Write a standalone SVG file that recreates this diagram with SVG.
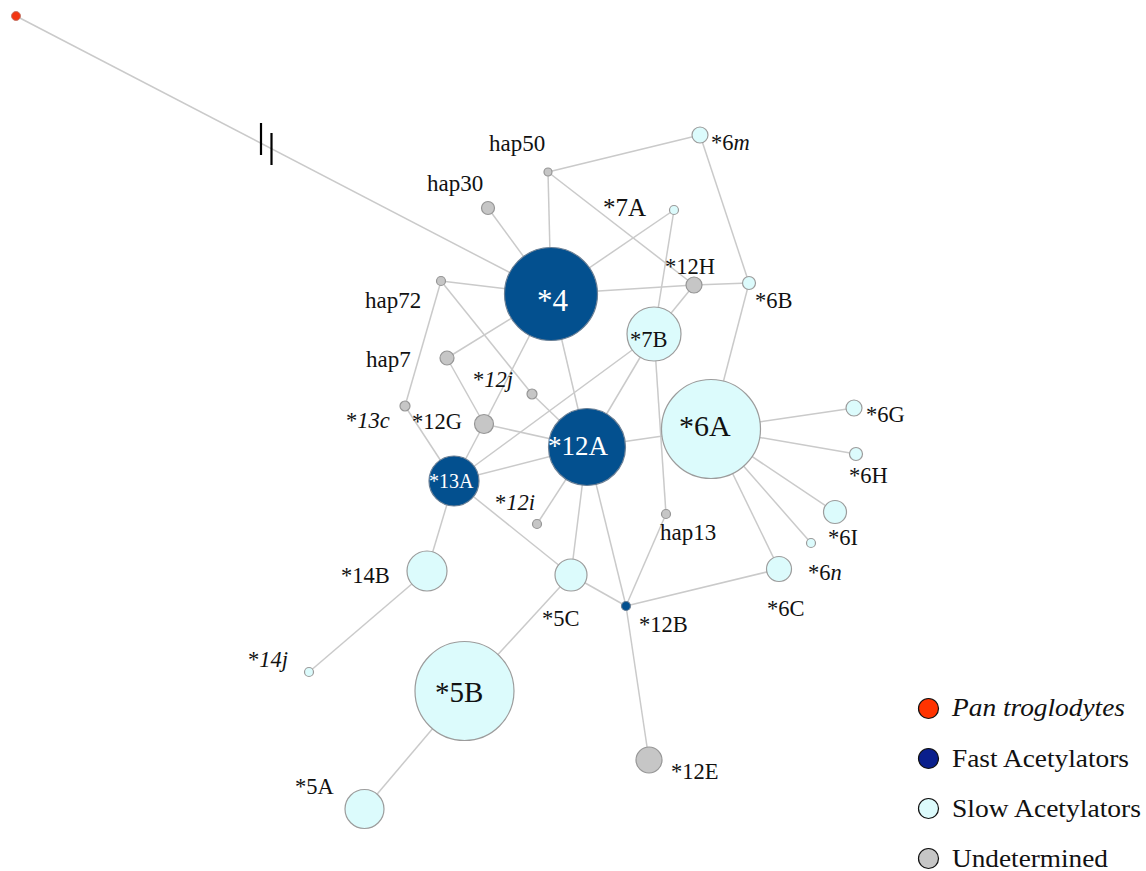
<svg xmlns="http://www.w3.org/2000/svg" width="1146" height="871" viewBox="0 0 1146 871">
  <style>
    .edge { stroke: #cacaca; stroke-width: 1.5; fill: none; }
    .hash { stroke: #000; stroke-width: 2.2; }
    .fast { fill: #03508f; stroke: #6a7f95; stroke-width: 1.2; }
    .slow { fill: #dcfbfc; stroke: #9c9c9c; stroke-width: 1.2; }
    .und  { fill: #c6c6c6; stroke: #969696; stroke-width: 1.2; }
    .out  { fill: #f23612; stroke: #c87a6c; stroke-width: 1; }
    text { font-family: "Liberation Serif", "Times New Roman", serif; fill: #111; }
    .lbl { font-size: 22.5px; }
    .hap { font-size: 23px; }
    .inw { fill: #ffffff; }
    .leg { font-size: 25px; }
    .legdot { stroke: #111; stroke-width: 1.2; }
  </style>

  <!-- connectors -->
  <g id="edges">
    <line class="edge" x1="16" y1="16" x2="551" y2="294"/>
    <line class="edge" x1="488" y1="208" x2="551" y2="294"/>
    <line class="edge" x1="548" y1="172" x2="551" y2="294"/>
    <line class="edge" x1="548" y1="172" x2="700" y2="135"/>
    <line class="edge" x1="548" y1="172" x2="694" y2="285"/>
    <line class="edge" x1="700" y1="135" x2="749" y2="283"/>
    <line class="edge" x1="551" y1="294" x2="674" y2="210"/>
    <line class="edge" x1="674" y1="210" x2="654" y2="334"/>
    <line class="edge" x1="551" y1="294" x2="694" y2="285"/>
    <line class="edge" x1="694" y1="285" x2="749" y2="283"/>
    <line class="edge" x1="694" y1="285" x2="654" y2="334"/>
    <line class="edge" x1="749" y1="283" x2="711" y2="429"/>
    <line class="edge" x1="441" y1="281" x2="551" y2="294"/>
    <line class="edge" x1="441" y1="281" x2="405" y2="406"/>
    <line class="edge" x1="441" y1="281" x2="532" y2="394"/>
    <line class="edge" x1="532" y1="394" x2="587" y2="447"/>
    <line class="edge" x1="551" y1="294" x2="447" y2="358"/>
    <line class="edge" x1="447" y1="358" x2="484" y2="424"/>
    <line class="edge" x1="551" y1="294" x2="484" y2="424"/>
    <line class="edge" x1="551" y1="294" x2="587" y2="447"/>
    <line class="edge" x1="405" y1="406" x2="454" y2="481"/>
    <line class="edge" x1="484" y1="424" x2="454" y2="481"/>
    <line class="edge" x1="484" y1="424" x2="587" y2="447"/>
    <line class="edge" x1="454" y1="481" x2="587" y2="447"/>
    <line class="edge" x1="454" y1="481" x2="654" y2="334"/>
    <line class="edge" x1="587" y1="447" x2="654" y2="334"/>
    <line class="edge" x1="587" y1="447" x2="711" y2="429"/>
    <line class="edge" x1="654" y1="334" x2="666" y2="514"/>
    <line class="edge" x1="666" y1="514" x2="626" y2="606"/>
    <line class="edge" x1="587" y1="447" x2="537" y2="524"/>
    <line class="edge" x1="587" y1="447" x2="571" y2="575"/>
    <line class="edge" x1="587" y1="447" x2="626" y2="606"/>
    <line class="edge" x1="454" y1="481" x2="571" y2="575"/>
    <line class="edge" x1="571" y1="575" x2="626" y2="606"/>
    <line class="edge" x1="454" y1="481" x2="427" y2="571"/>
    <line class="edge" x1="427" y1="571" x2="309" y2="672"/>
    <line class="edge" x1="571" y1="575" x2="464.5" y2="691"/>
    <line class="edge" x1="464.5" y1="691" x2="364.5" y2="809"/>
    <line class="edge" x1="626" y1="606" x2="649" y2="760"/>
    <line class="edge" x1="626" y1="606" x2="779" y2="569"/>
    <line class="edge" x1="711" y1="429" x2="854" y2="408"/>
    <line class="edge" x1="711" y1="429" x2="856" y2="454"/>
    <line class="edge" x1="711" y1="429" x2="835" y2="512"/>
    <line class="edge" x1="711" y1="429" x2="811" y2="543"/>
    <line class="edge" x1="711" y1="429" x2="779" y2="569"/>
    <!-- break marks on the long outgroup branch -->
    <line class="hash" x1="261" y1="123" x2="261" y2="155"/>
    <line class="hash" x1="271.5" y1="133" x2="271.5" y2="165"/>
  </g>

  <!-- nodes -->
  <g id="n-pan"><circle class="out" cx="16" cy="16" r="4.5"/></g>
  <g id="n-4"><circle class="fast" cx="551" cy="294" r="46.5"/><text class="inw" x="537" y="311" font-size="31">*4</text></g>
  <g id="n-hap50"><circle class="und" cx="548" cy="172" r="4"/><text class="hap" x="489" y="151">hap50</text></g>
  <g id="n-hap30"><circle class="und" cx="488" cy="208" r="6.5"/><text class="hap" x="427" y="191">hap30</text></g>
  <g id="n-6m"><circle class="slow" cx="700" cy="135" r="8"/><text class="lbl" x="711" y="150">*6<tspan font-style="italic">m</tspan></text></g>
  <g id="n-7A"><circle class="slow" cx="674" cy="210" r="4.5"/><text x="603" y="216" font-size="25">*7A</text></g>
  <g id="n-12H"><circle class="und" cx="694" cy="285" r="8"/><text class="lbl" x="665" y="274">*12H</text></g>
  <g id="n-6B"><circle class="slow" cx="749" cy="283" r="6.5"/><text class="lbl" x="755" y="308">*6B</text></g>
  <g id="n-7B"><circle class="slow" cx="654" cy="334" r="27"/><text class="lbl" x="630" y="347">*7B</text></g>
  <g id="n-hap72"><circle class="und" cx="441" cy="281" r="4.5"/><text class="hap" x="365" y="308">hap72</text></g>
  <g id="n-hap7"><circle class="und" cx="447" cy="358" r="7"/><text class="hap" x="366" y="367">hap7</text></g>
  <g id="n-12j"><circle class="und" cx="532" cy="394" r="5"/><text class="lbl" x="473" y="387">*<tspan font-style="italic">12j</tspan></text></g>
  <g id="n-13c"><circle class="und" cx="405" cy="406" r="5"/><text class="lbl" x="346" y="428">*<tspan font-style="italic">13c</tspan></text></g>
  <g id="n-12G"><circle class="und" cx="484" cy="424" r="9.5"/><text class="lbl" x="412" y="429">*12G</text></g>
  <g id="n-12A"><circle class="fast" cx="587" cy="447" r="38.5"/><text class="inw" x="548" y="455" font-size="27">*12A</text></g>
  <g id="n-13A"><circle class="fast" cx="454" cy="481" r="25"/><text class="inw" x="429" y="488" font-size="20">*13A</text></g>
  <g id="n-12i"><circle class="und" cx="537" cy="524" r="4.5"/><text class="lbl" x="495" y="510">*<tspan font-style="italic">12i</tspan></text></g>
  <g id="n-hap13"><circle class="und" cx="666" cy="514" r="4.5"/><text class="hap" x="660" y="540">hap13</text></g>
  <g id="n-6A"><circle class="slow" cx="711" cy="429" r="49.5"/><text x="679" y="436" font-size="30">*6A</text></g>
  <g id="n-6G"><circle class="slow" cx="854" cy="408" r="8"/><text class="lbl" x="866" y="422">*6G</text></g>
  <g id="n-6H"><circle class="slow" cx="856" cy="454" r="6.5"/><text class="lbl" x="849" y="483">*6H</text></g>
  <g id="n-6I"><circle class="slow" cx="835" cy="512" r="11.5"/><text class="lbl" x="828" y="545">*6I</text></g>
  <g id="n-6n"><circle class="slow" cx="811" cy="543" r="4.5"/><text class="lbl" x="808" y="580">*6<tspan font-style="italic">n</tspan></text></g>
  <g id="n-6C"><circle class="slow" cx="779" cy="569" r="12.5"/><text class="lbl" x="767" y="616">*6C</text></g>
  <g id="n-14B"><circle class="slow" cx="427" cy="571" r="20"/><text class="lbl" x="341" y="583">*14B</text></g>
  <g id="n-5C"><circle class="slow" cx="571" cy="575" r="16"/><text class="lbl" x="542" y="626">*5C</text></g>
  <g id="n-12B"><circle class="fast" cx="626" cy="606" r="4.5"/><text class="lbl" x="639" y="632">*12B</text></g>
  <g id="n-14j"><circle class="slow" cx="309" cy="672" r="4.5"/><text class="lbl" x="248" y="667">*<tspan font-style="italic">14j</tspan></text></g>
  <g id="n-5B"><circle class="slow" cx="464.5" cy="691" r="49.5"/><text x="435" y="702" font-size="29">*5B</text></g>
  <g id="n-5A"><circle class="slow" cx="364.5" cy="809" r="19.5"/><text class="lbl" x="295" y="794">*5A</text></g>
  <g id="n-12E"><circle class="und" cx="649" cy="760" r="13"/><text class="lbl" x="671" y="779">*12E</text></g>

  <!-- legend -->
  <g id="legend">
    <circle class="legdot" cx="928.5" cy="708.5" r="10" fill="#ff3300"/>
    <text class="leg" x="952" y="716" font-style="italic" textLength="173" lengthAdjust="spacingAndGlyphs">Pan troglodytes</text>
    <circle class="legdot" cx="928.5" cy="758.5" r="10" fill="#0a1f8c"/>
    <text class="leg" x="952" y="767" textLength="177" lengthAdjust="spacingAndGlyphs">Fast Acetylators</text>
    <circle class="legdot" cx="928.5" cy="808.5" r="10" fill="#dcfbfc"/>
    <text class="leg" x="952" y="817" textLength="189" lengthAdjust="spacingAndGlyphs">Slow Acetylators</text>
    <circle class="legdot" cx="928.5" cy="858.5" r="10" fill="#c6c6c6"/>
    <text class="leg" x="952" y="867" textLength="156" lengthAdjust="spacingAndGlyphs">Undetermined</text>
  </g>
</svg>
